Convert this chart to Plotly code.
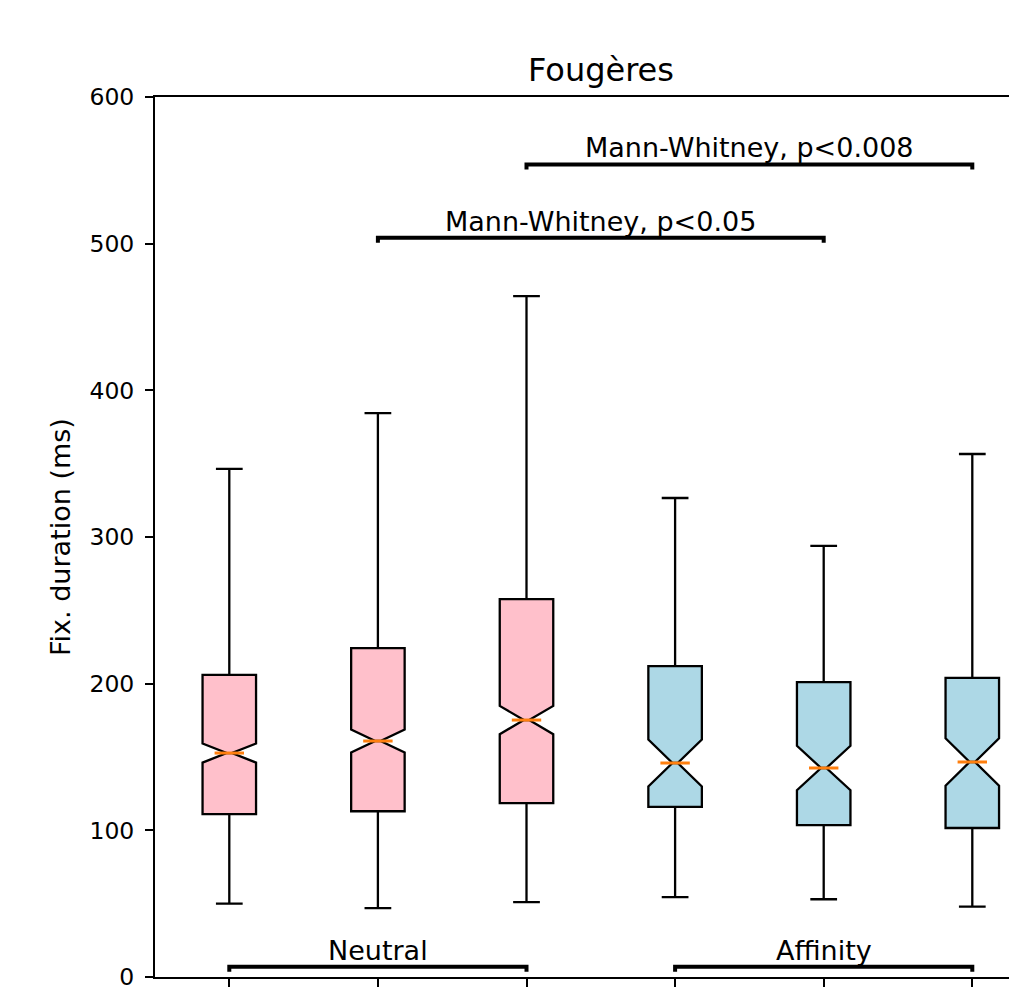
import plotly.graph_objects as go

# ---- data ----
positions = [1, 2, 3, 4, 5, 6]
tick_labels = ["Close", "Middle", "Far", "Close", "Middle", "Far"]
lower_whisker = [50, 47, 51, 54.5, 53, 48]
q1 = [111, 113, 118.6, 116, 103.6, 101.6]
median = [152.7, 160.9, 175.2, 145.9, 142.5, 146.6]
q3 = [206, 224.3, 257.7, 212, 201.1, 203.9]
upper_whisker = [346.4, 384.5, 464.3, 326.6, 293.9, 356.6]
notch_lo = [147, 153.4, 165.5, 130.4, 126.8, 130.4]
notch_hi = [160, 169, 184.8, 162.3, 157, 162.7]
box_colors = ["pink", "pink", "pink", "lightblue", "lightblue", "lightblue"]

# significance brackets: (left box, right box, height, label)
sig_left = [3, 2]
sig_right = [6, 5]
sig_height = [554, 504]
sig_labels = ["Mann-Whitney, p<0.008", "Mann-Whitney, p<0.05"]

# group brackets
grp_left = [1, 4]
grp_right = [3, 6]
grp_height = [7, 7]
grp_labels = ["Neutral", "Affinity"]

FONT = "DejaVu Sans"
BOX_W = 0.36
TICK_D = 3.4

fig = go.Figure()
for i, p in enumerate(positions):
    notchspan = (notch_hi[i] - notch_lo[i]) / 2
    fig.add_trace(go.Box(
        x=[p], q1=[q1[i]], median=[median[i]], q3=[q3[i]],
        lowerfence=[lower_whisker[i]], upperfence=[upper_whisker[i]],
        notched=True, notchspan=[notchspan], notchwidth=0.45,
        width=BOX_W, whiskerwidth=0.5,
        fillcolor=box_colors[i], line=dict(color="black", width=2.3),
        boxpoints=False, showlegend=False, hoverinfo="skip",
    ))

# median lines (orange)
mx, my = [], []
for i, p in enumerate(positions):
    half = BOX_W / 2 * 0.55
    mx += [p - half, p + half, None]
    my += [median[i], median[i], None]
fig.add_trace(go.Scatter(x=mx, y=my, mode="lines",
                         line=dict(color="#ff7f0e", width=3),
                         showlegend=False, hoverinfo="skip"))

def bracket(xa, xb, yb, label):
    fig.add_trace(go.Scatter(
        x=[xa, xa, xb, xb], y=[yb - TICK_D, yb, yb, yb - TICK_D],
        mode="lines", line=dict(color="black", width=4),
        showlegend=False, hoverinfo="skip", cliponaxis=False))
    fig.add_annotation(x=(xa + xb) / 2, y=yb, text=label, showarrow=False,
                       yanchor="bottom", yshift=-1,
                       font=dict(family=FONT, size=27, color="black"))

for a, b, h, t in zip(sig_left, sig_right, sig_height, sig_labels):
    bracket(a, b, h, t)
for a, b, h, t in zip(grp_left, grp_right, grp_height, grp_labels):
    bracket(a, b, h, t)

fig.update_layout(
    width=1017, height=997,
    margin=dict(l=147, r=0, t=89, b=28, autoexpand=False),
    paper_bgcolor="white", plot_bgcolor="white",
    font=dict(family=FONT, color="black"),
    title=dict(text="Fougères", x=601 / 1017 - 8 / 1017, xanchor="center",
               y=1 - 62 / 997, yanchor="middle", yref="container",
               automargin=False,
               font=dict(family=FONT, size=32, color="black")),
    xaxis=dict(range=[0.5, 0.5 + 870 / 148.6], tickmode="array",
               tickvals=positions, ticktext=tick_labels, automargin=False,
               showline=True, linecolor="black", linewidth=2, mirror=True,
               ticks="outside", ticklen=8, tickwidth=2, tickcolor="black",
               showgrid=False, zeroline=False,
               tickfont=dict(family=FONT, size=24, color="black")),
    yaxis=dict(range=[0, 600], tickvals=[0, 100, 200, 300, 400, 500, 600],
               automargin=False, ticklabelstandoff=6,
               showline=True, linecolor="black", linewidth=2, mirror=False,
               ticks="outside", ticklen=8, tickwidth=2, tickcolor="black",
               showgrid=False, zeroline=False,
               tickfont=dict(family=FONT, size=23.5, color="black")),
)
fig.add_annotation(text="Fix. duration (ms)", xref="paper", yref="paper",
                   x=0, y=0.5, xanchor="center", yanchor="middle",
                   xshift=-95, textangle=-90, showarrow=False,
                   font=dict(family=FONT, size=27, color="black"))

fig.write_html("out.html")
